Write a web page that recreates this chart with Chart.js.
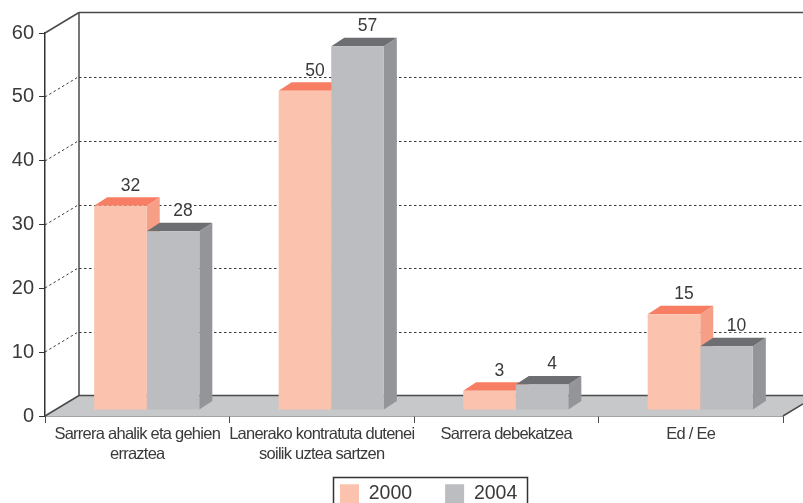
<!DOCTYPE html>
<html>
<head>
<meta charset="utf-8">
<style>
  html, body { margin: 0; padding: 0; background: #fff; overflow: hidden; }
  canvas { display: block; }
</style>
<script src="https://cdn.jsdelivr.net/npm/chart.js@4/dist/chart.umd.min.js"></script>
</head>
<body>
<canvas id="chart" width="803" height="503"></canvas>
<script>
// DATA
const categories = [
  ["Sarrera ahalik eta gehien", "erraztea"],
  ["Lanerako kontratuta dutenei", "soilik uztea sartzen"],
  "Sarrera debekatzea",
  "Ed / Ee"
];
const seriesNames = ["2000", "2004"];
const values2000 = [32, 50, 3, 15];
const values2004 = [28, 57, 4, 10];
const frontColors = ["#fbc3ae", "#bbbdc0"];
const topColors = ["#f77e62", "#6d6e71"];
const sideColors = ["#f79f86", "#939598"];

const textColor = "#3a3a3c";
const lineColor = "#4a4a4c";
const fontFamily = "'Liberation Sans', Arial, sans-serif";

// 3D offsets
const wall = { dx: 34, dy: -20.5 };   // front plane to back wall
const barShift = { dx: 9.5, dy: -6 };  // bars stand a bit inside the floor
const barDepth = { dx: 13, dy: -8.5 };

function poly(ctx, pts, fill) {
  ctx.beginPath();
  pts.forEach((p, i) => i ? ctx.lineTo(p[0], p[1]) : ctx.moveTo(p[0], p[1]));
  ctx.closePath();
  ctx.fillStyle = fill;
  ctx.fill();
}

function seg(ctx, x1, y1, x2, y2) {
  ctx.beginPath();
  ctx.moveTo(x1, y1);
  ctx.lineTo(x2, y2);
  ctx.stroke();
}

const plot3d = {
  id: "plot3d",
  beforeLayout(chart) {
    // legend is placed by hand, it should not take room from the plot
    const lg = chart.legend;
    if (!lg._flat) {
      lg._flat = true;
      const fit = lg.fit;
      lg.fit = function () { fit.call(this); this.height = 0; };
    }
  },
  afterLayout(chart) {
    const lg = chart.legend;
    lg.left = 307;
    lg.right = 805;
    lg.top = 451;
    lg.bottom = 520;
    // narrower category labels
    const x = chart.scales.x;
    if (!x._narrow) {
      x._narrow = true;
      const orig = x.drawLabels;
      x.drawLabels = function (area) {
        chart.ctx.letterSpacing = "-0.75px";
        orig.call(this, area);
        chart.ctx.letterSpacing = "0px";
      };
    }
  },
  beforeDatasetsDraw(chart) {
    const ctx = chart.ctx;
    const a = chart.chartArea;
    const y = chart.scales.y;
    const W = chart.width;
    const base = y.getPixelForValue(0);
    const top = y.getPixelForValue(60);
    const backBase = base + wall.dy;
    const backTop = top + wall.dy;

    ctx.save();
    // floor
    const slope = wall.dy / wall.dx;
    poly(ctx, [[a.left, base], [a.left + wall.dx, backBase], [W, backBase],
      [W, base + (W - a.right) * slope], [a.right, base]], "#c6c8ca");

    // dashed grid on the wall and the left side
    ctx.strokeStyle = "#3a3a3c";
    ctx.lineWidth = 1;
    ctx.setLineDash([2.5, 2.5]);
    y.ticks.forEach(t => {
      if (t.value === 0 || t.value === 60) return;
      const py = Math.round(y.getPixelForValue(t.value));
      seg(ctx, a.left, py, a.left + wall.dx, py + wall.dy);
      seg(ctx, a.left + wall.dx, py + wall.dy + 1, W, py + wall.dy + 1);
    });
    ctx.setLineDash([]);

    // wall outline
    ctx.strokeStyle = lineColor;
    ctx.lineWidth = 1.5;
    seg(ctx, a.left, top, a.left + wall.dx, backTop);
    seg(ctx, a.left + wall.dx, backTop, W, backTop);
    seg(ctx, a.left + wall.dx, backTop, a.left + wall.dx, backBase);
    seg(ctx, a.left + wall.dx, backBase, W, backBase);
    seg(ctx, a.left, base, a.left + wall.dx, backBase);
    seg(ctx, a.right, base, W, base + (W - a.right) * slope);

    // bars are shifted as a whole, sides and tops go under the native fronts
    ctx.translate(barShift.dx, barShift.dy);
    [0, 1].forEach(d => {
      chart.getDatasetMeta(d).data.forEach(bar => {
        const l = bar.x - bar.width / 2;
        const r = bar.x + bar.width / 2;
        const dx = barDepth.dx, dy = barDepth.dy;
        poly(ctx, [[r, bar.y], [r + dx, bar.y + dy], [r + dx, bar.base + dy], [r, bar.base]], sideColors[d]);
        poly(ctx, [[l, bar.y], [l + dx, bar.y + dy], [r + dx, bar.y + dy], [r, bar.y]], topColors[d]);
      });
    });
    ctx.restore();

    ctx.save();
    ctx.translate(barShift.dx, barShift.dy);
  },
  afterDatasetsDraw(chart) {
    const ctx = chart.ctx;
    ctx.restore();
    // value labels
    ctx.save();
    ctx.font = "17.5px " + fontFamily;
    ctx.textAlign = "center";
    ctx.textBaseline = "middle";
    [0, 1].forEach(d => {
      const meta = chart.getDatasetMeta(d);
      meta.data.forEach((bar, i) => {
        const v = String(chart.data.datasets[d].data[i]);
        const lx = bar.x + barShift.dx + 10;
        const ly = bar.y + barShift.dy - 20;
        const w = ctx.measureText(v).width;
        ctx.fillStyle = "#fff";
        ctx.fillRect(lx - w / 2 - 1, ly - 6, w + 2, 12);
        ctx.fillStyle = textColor;
        ctx.fillText(v, lx, ly);
      });
    });
    ctx.restore();
  },
  afterDraw(chart) {
    // legend frame
    const ctx = chart.ctx;
    ctx.save();
    ctx.strokeStyle = "#333";
    ctx.lineWidth = 1.5;
    ctx.strokeRect(333.5, 477.5, 194, 40);
    ctx.restore();
  }
};

new Chart("chart", {
  type: "bar",
  data: {
    labels: categories,
    datasets: [
      { label: seriesNames[0], data: values2000, backgroundColor: frontColors[0] },
      { label: seriesNames[1], data: values2004, backgroundColor: frontColors[1] }
    ]
  },
  plugins: [plot3d],
  options: {
    responsive: false,
    animation: false,
    layout: { padding: { top: 33, right: 20, left: 0, bottom: 0 } },
    datasets: { bar: { barPercentage: 1, categoryPercentage: 0.57 } },
    plugins: {
      tooltip: { enabled: false },
      legend: {
        position: "bottom",
        align: "start",
        labels: {
          boxWidth: 19,
          boxHeight: 19,
          padding: 33,
          color: textColor,
          font: { family: fontFamily, size: 19.5 }
        }
      }
    },
    scales: {
      x: {
        afterFit(s) { s.height = 87; },
        border: { color: lineColor, width: 1.5 },
        grid: { drawOnChartArea: false, tickLength: 7, tickColor: lineColor, tickWidth: 1 },
        ticks: {
          autoSkip: false,
          maxRotation: 0,
          padding: 1,
          color: textColor,
          font: { family: fontFamily, size: 16.5, lineHeight: 1.22 }
        }
      },
      y: {
        min: 0,
        max: 60,
        afterFit(s) { s.width = 45; },
        border: { color: "#333", width: 1.5 },
        grid: { drawOnChartArea: false, tickLength: 6, tickColor: "#333", tickWidth: 1 },
        ticks: {
          stepSize: 10,
          padding: 5,
          color: textColor,
          font: { family: fontFamily, size: 20 }
        }
      }
    }
  }
});
</script>
</body>
</html>
